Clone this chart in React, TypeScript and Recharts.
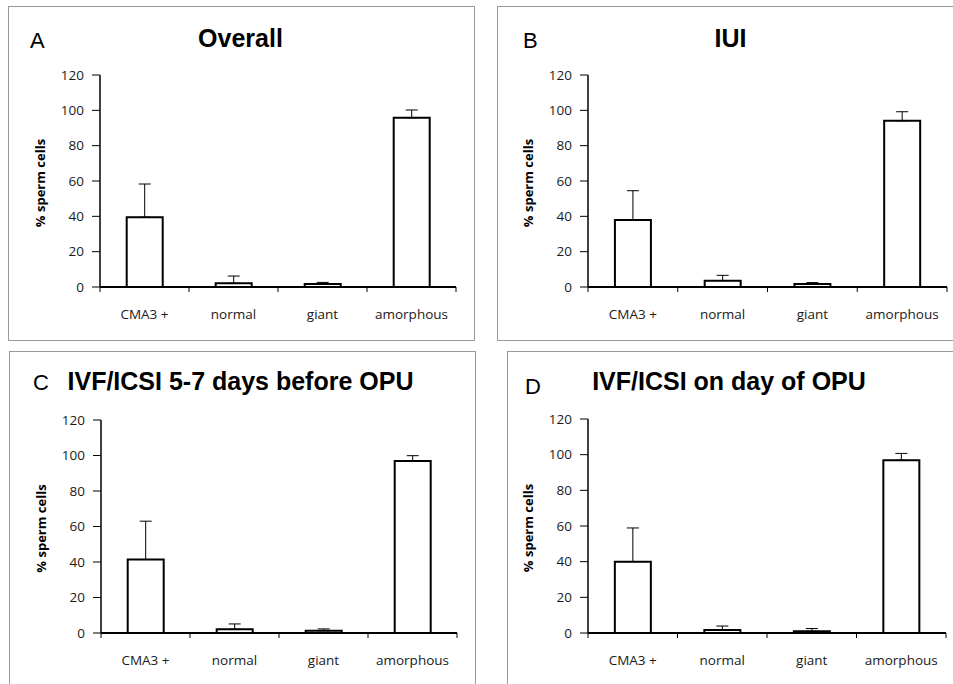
import { BarChart, Bar, XAxis, YAxis, ErrorBar } from 'recharts'

const categories = ['CMA3 +', 'normal', 'giant', 'amorphous']
const yTicks = [0, 20, 40, 60, 80, 100, 120]

// mean % and upper error (SD)
const overallMean = [39.5, 2.1, 1.7, 95.8]
const overallErr = [18.8, 4.1, 0.9, 4.4]
const iuiMean = [37.9, 3.6, 1.7, 94.1]
const iuiErr = [16.6, 3.0, 0.8, 5.1]
const ivfBeforeMean = [41.4, 2.1, 1.3, 96.9]
const ivfBeforeErr = [21.6, 3.0, 1.0, 3.0]
const ivfDayMean = [40.0, 1.7, 1.0, 96.9]
const ivfDayErr = [18.9, 2.2, 1.5, 3.8]

const FONT = '"Open Sans", sans-serif'
const TITLE_FONT = '"Liberation Sans", Arial, sans-serif'

interface Rect { x: number; y: number; w: number; h: number }

interface PanelDef {
  letter: string
  title: string
  mean: number[]
  err: number[]
  box: Rect
  plot: Rect
  letterPos: [number, number]
  titlePos: [number, number]
}

const panels: PanelDef[] = [
  {
    letter: 'A', title: 'Overall', mean: overallMean, err: overallErr,
    box: { x: 8, y: 6, w: 467, h: 335 },
    plot: { x: 100, y: 75, w: 356, h: 212 },
    letterPos: [30, 48], titlePos: [240.5, 47],
  },
  {
    letter: 'B', title: 'IUI', mean: iuiMean, err: iuiErr,
    box: { x: 497, y: 6, w: 500, h: 335 },
    plot: { x: 588, y: 75, w: 359, h: 212 },
    letterPos: [523, 48], titlePos: [730.5, 47],
  },
  {
    letter: 'C', title: 'IVF/ICSI 5-7 days before OPU', mean: ivfBeforeMean, err: ivfBeforeErr,
    box: { x: 9, y: 351, w: 467, h: 400 },
    plot: { x: 101, y: 420, w: 356, h: 213 },
    letterPos: [33, 390], titlePos: [240.5, 390],
  },
  {
    letter: 'D', title: 'IVF/ICSI on day of OPU', mean: ivfDayMean, err: ivfDayErr,
    box: { x: 507, y: 351, w: 500, h: 400 },
    plot: { x: 588, y: 419, w: 358, h: 214 },
    letterPos: [525, 394], titlePos: [729, 390],
  },
]

function CatTick(props: any) {
  const { x, y, payload, index, visibleTicksCount, band } = props
  const half = band / 2
  return (
    <g>
      <line x1={x - half} y1={y} x2={x - half} y2={y + 5} stroke="#000" strokeWidth={1} />
      {index === visibleTicksCount - 1 && (
        <line x1={x + half} y1={y} x2={x + half} y2={y + 5} stroke="#000" strokeWidth={1} />
      )}
      <text x={x} y={y + 32} textAnchor="middle" fill="#1a1a1a" fontSize={13.5} fontFamily={FONT}>
        {payload.value}
      </text>
    </g>
  )
}

function YLabel(props: any) {
  const vb = props.viewBox || { x: 40, y: 20, width: 60, height: 212 }
  const x = vb.x + vb.width - 55
  const y = vb.y + vb.height / 2 + 2
  return (
    <text
      x={x}
      y={y}
      transform={`rotate(-90, ${x}, ${y})`}
      textAnchor="middle"
      fill="#000"
      fontSize={13}
      fontWeight="bold"
      fontFamily={FONT}
    >
      % sperm cells
    </text>
  )
}

function Panel({ def }: { def: PanelDef }) {
  const { plot, mean, err } = def
  const rows = categories.map((name, i) => ({ name, value: mean[i], err: [0, err[i]] }))
  const band = plot.w / categories.length
  return (
    <div style={{ position: 'absolute', left: plot.x - 100, top: plot.y - 20 }}>
      <BarChart
        width={plot.w + 130}
        height={plot.h + 80}
        data={rows}
        margin={{ top: 20, right: 30, bottom: 10, left: 40 }}
        barCategoryGap="30%"
      >
        <XAxis
          dataKey="name"
          height={50}
          interval={0}
          tickSize={0}
          tickMargin={0}
          tickLine={false}
          axisLine={{ stroke: '#000', strokeWidth: 2 }}
          tick={(p: any) => <CatTick {...p} band={band} />}
        />
        <YAxis
          width={60}
          domain={[0, 120]}
          ticks={yTicks}
          interval={0}
          tickSize={8}
          tickMargin={8}
          axisLine={{ stroke: '#000', strokeWidth: 1.5 }}
          tickLine={{ stroke: '#000' }}
          tick={{ fill: '#1a1a1a', fontSize: 13.5, fontFamily: FONT }}
          label={{ content: (p: any) => <YLabel {...p} /> }}
        />
        <Bar dataKey="value" fill="#fff" stroke="#000" strokeWidth={2} isAnimationActive={false}>
          <ErrorBar dataKey="err" direction="y" width={6} stroke="#000" strokeWidth={1} isAnimationActive={false} />
        </Bar>
      </BarChart>
    </div>
  )
}

export default function App() {
  return (
    <div
      style={{
        position: 'absolute',
        left: 0,
        top: 0,
        width: 953,
        height: 684,
        overflow: 'hidden',
        background: '#fff',
      }}
    >
      {panels.map(p => (
        <div
          key={'box' + p.letter}
          style={{
            position: 'absolute',
            left: p.box.x,
            top: p.box.y,
            width: p.box.w,
            height: p.box.h,
            boxSizing: 'border-box',
            border: '1px solid #999',
          }}
        />
      ))}
      {panels.map(p => (
        <Panel key={'chart' + p.letter} def={p} />
      ))}
      <svg width={953} height={684} style={{ position: 'absolute', left: 0, top: 0, pointerEvents: 'none' }}>
        {panels.map(p => (
          <g key={'title' + p.letter}>
            <text x={p.letterPos[0]} y={p.letterPos[1]} fontSize={22} fontFamily={TITLE_FONT} fill="#000">
              {p.letter}
            </text>
            <text
              x={p.titlePos[0]}
              y={p.titlePos[1]}
              textAnchor="middle"
              fontSize={25}
              fontWeight="bold"
              fontFamily={TITLE_FONT}
              fill="#000"
            >
              {p.title}
            </text>
          </g>
        ))}
      </svg>
    </div>
  )
}
